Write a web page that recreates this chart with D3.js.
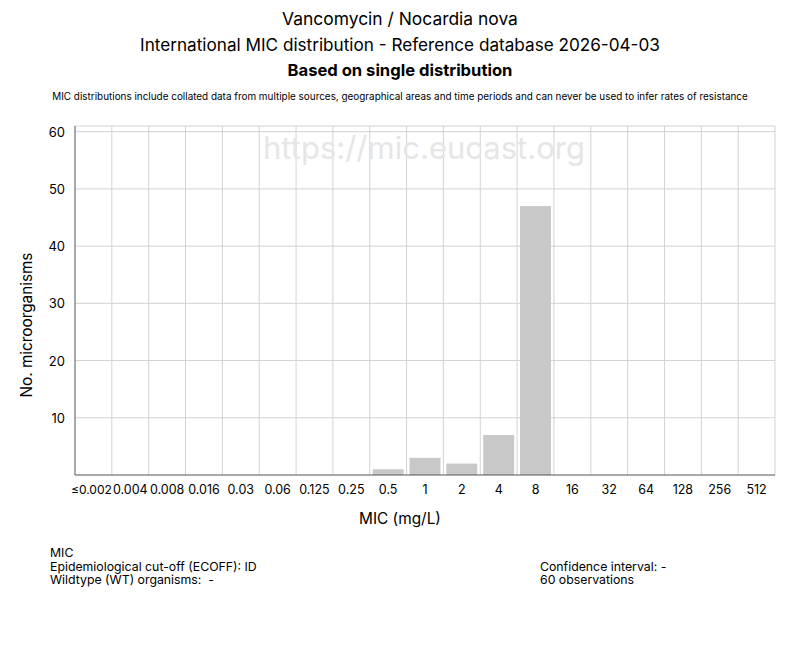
<!DOCTYPE html>
<html><head><meta charset="utf-8">
<script src="https://cdn.jsdelivr.net/npm/d3@7"></script>
<style>body{margin:0;background:#fff;} text{font-family:Inter,"Liberation Sans",Arial,sans-serif;white-space:pre;}</style>
</head><body>
<svg id="c" width="800" height="650"></svg>
<script>
const categories = ["≤0.002","0.004","0.008","0.016","0.03","0.06","0.125","0.25","0.5","1","2","4","8","16","32","64","128","256","512"];
const counts = [0,0,0,0,0,0,0,0,1,3,2,7,47,0,0,0,0,0,0];
const yTicks = [10,20,30,40,50,60];
const titleLines = ["Vancomycin / Nocardia nova","International MIC distribution - Reference database 2026-04-03"];
const subTitle = "Based on single distribution";
const note = "MIC distributions include collated data from multiple sources, geographical areas and time periods and can never be used to infer rates of resistance";
const leftInfo = ["MIC","Epidemiological cut-off (ECOFF): ID","Wildtype (WT) organisms:  -"];
const rightInfo = ["Confidence interval: -","60 observations"];

const svg = d3.select("#c");
const L=75, R=775, T=126, B=475;
const x = d3.scaleBand().domain(categories).range([L,R]).paddingInner(0.16).paddingOuter(0.08);
const xg = d3.scaleBand().domain(categories).range([L,R]);
const y = d3.scaleLinear().domain([0,61]).range([B,T]);

function fit(sel, target){
  const n = sel.node(); const w = n.getComputedTextLength();
  const fs = parseFloat(sel.attr("font-size"));
  if (w>0) sel.attr("font-size", (fs*target/w).toFixed(2));
  return sel;
}

fit(svg.append("text").attr("x",400).attr("y",25).attr("text-anchor","middle").attr("font-size",16).text(titleLines[0]),236);
fit(svg.append("text").attr("x",400).attr("y",51).attr("text-anchor","middle").attr("font-size",16).text(titleLines[1]),520);
fit(svg.append("text").attr("x",400).attr("y",76).attr("text-anchor","middle").attr("font-size",16).attr("font-weight","bold").text(subTitle),225);
fit(svg.append("text").attr("x",400).attr("y",100).attr("text-anchor","middle").attr("font-size",9.6).text(note),696);

// grid
const g = svg.append("g");
g.selectAll(".vg").data(categories.slice(1)).enter().append("line")
  .attr("x1",d=>xg(d)).attr("x2",d=>xg(d)).attr("y1",T).attr("y2",B).attr("stroke","#d3d3d3");
g.append("line").attr("x1",R).attr("x2",R).attr("y1",T).attr("y2",B).attr("stroke","#d3d3d3");
g.selectAll(".hg").data(yTicks).enter().append("line")
  .attr("x1",L).attr("x2",R).attr("y1",d=>y(d)).attr("y2",d=>y(d)).attr("stroke","#d3d3d3");
g.append("line").attr("x1",L).attr("x2",R).attr("y1",T).attr("y2",T).attr("stroke","#d3d3d3");

fit(svg.append("text").attr("x",424).attr("y",159).attr("text-anchor","middle").attr("font-size",28).attr("fill","#e6e6e6").text("https://mic.eucast.org"),322);

// bars
svg.selectAll(".bar").data(categories).enter().append("rect")
  .attr("x",d=>x(d)).attr("width",x.bandwidth())
  .attr("y",(d,i)=>y(counts[i])).attr("height",(d,i)=>B-y(counts[i]))
  .attr("fill","#c8c8c8");

// axes
svg.append("line").attr("x1",L).attr("x2",L).attr("y1",T).attr("y2",B).attr("stroke","#555");
svg.append("line").attr("x1",L).attr("x2",R).attr("y1",B).attr("y2",B).attr("stroke","#555");

svg.selectAll(".yt").data(yTicks).enter().append("text")
  .attr("x",65).attr("y",d=>y(d)+5).attr("text-anchor","end").attr("font-size",13).text(d=>d);
svg.selectAll(".xt").data(categories).enter().append("text")
  .attr("x",d=>xg(d)+xg.bandwidth()/2).attr("y",494).attr("text-anchor","middle").attr("font-size",12.5).text(d=>d)
  .each(function(){ const w=this.getComputedTextLength(); if(w>41){ d3.select(this).attr("font-size",(12.5*41/w).toFixed(2)).attr("dx",-2); } });

fit(svg.append("text").attr("x",400).attr("y",524).attr("text-anchor","middle").attr("font-size",14).text("MIC (mg/L)"),82);
fit(svg.append("text").attr("transform","translate(32,325) rotate(-90)").attr("text-anchor","middle").attr("font-size",14).text("No. microorganisms"),145);

const li = svg.selectAll(".li").data(leftInfo).enter().append("text")
  .attr("x",50).attr("y",(d,i)=>557+i*13.5).attr("font-size",12).text(d=>d);
const ls = 12*207/li.nodes()[1].getComputedTextLength();
li.attr("font-size",ls.toFixed(2));
svg.selectAll(".ri").data(rightInfo).enter().append("text")
  .attr("x",540).attr("y",(d,i)=>570.5+i*13.5).attr("font-size",ls.toFixed(2)).text(d=>d);
</script>
</body></html>
